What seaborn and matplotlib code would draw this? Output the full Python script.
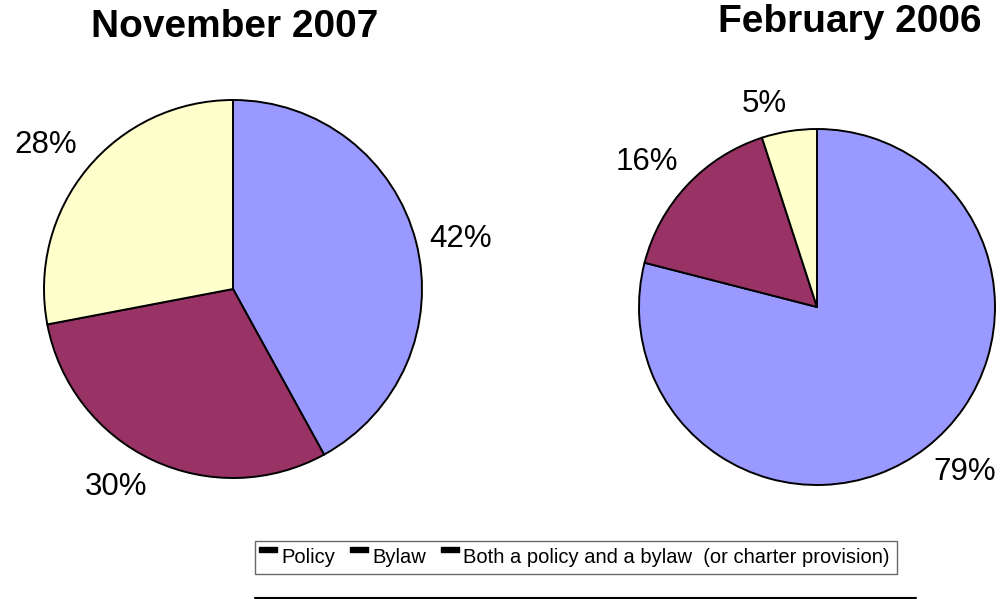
import numpy as np
import seaborn as sns
import matplotlib.pyplot as plt
from matplotlib.lines import Line2D
from matplotlib.path import Path

# data
categories = ["Policy", "Bylaw", "Both a policy and a bylaw  (or charter provision)"]
nov_2007 = [42, 30, 28]
feb_2006 = [79, 16, 5]
titles = ["November 2007", "February 2006"]
colors = ["#9999FF", "#993366", "#FFFFCC"]

sns.set_style("white")
plt.rcParams['font.family'] = ['Liberation Sans', 'DejaVu Sans']
plt.rcParams['text.color'] = 'black'

W, H = 1001, 599
fig = plt.figure(figsize=(W / 100, H / 100), dpi=100)


def pie_axes(cx, cy, r, lim=1.3):
    # square axes centred on (cx, cy) px, pie radius r px
    side = 2 * lim * r
    return fig.add_axes([(cx - side / 2) / W, (H - cy - side / 2) / H, side / W, side / H])


for vals, (cx, cy, r) in zip([nov_2007, feb_2006], [(233, 289, 189), (817, 307, 178)]):
    ax = pie_axes(cx, cy, r)
    _, texts = ax.pie(vals, labels=[f"{v}%" for v in vals], colors=colors, startangle=90,
                      counterclock=False, labeldistance=1.07,
                      wedgeprops=dict(edgecolor="black", linewidth=1.4),
                      textprops=dict(fontsize=22.5, color="black"))
    # keep labels outside the rim, like the spreadsheet layout
    for t in texts:
        x, y = t.get_position()
        s = y / np.hypot(x, y)
        if s > 0.3:
            t.set_va("bottom")
        elif s < -0.3:
            t.set_va("top")
    ax.set_xlim(-1.3, 1.3)
    ax.set_ylim(-1.3, 1.3)
    ax.set_aspect("equal")
    ax.axis("off")

fig.text(235 / W, 1 - 27 / H, titles[0], ha="center", va="center", fontsize=28, fontweight="bold")
fig.text(850 / W, 1 - 22 / H, titles[1], ha="center", va="center", fontsize=28, fontweight="bold")

# raised dash used as legend key
dash = Path([(-0.7, 0.3), (0.7, 0.3), (0.7, 0.7), (-0.7, 0.7), (-0.7, 0.3)],
            [Path.MOVETO, Path.LINETO, Path.LINETO, Path.LINETO, Path.CLOSEPOLY])
handles = [Line2D([], [], ls="none", marker=dash, markersize=13, color="black") for _ in categories]
leg = fig.legend(handles, categories, loc="upper left", bbox_to_anchor=(255 / W, 1 - 541 / H),
                 ncol=3, fontsize=14.5, frameon=True, fancybox=False, handlelength=0.6,
                 handletextpad=0.35, columnspacing=0.9, borderpad=0.35, borderaxespad=0,
                 labelcolor="black")
leg.get_frame().set_edgecolor("#444444")
leg.get_frame().set_linewidth(1.0)

fig.add_artist(Line2D([255 / W, 916 / W], [1.5 / H, 1.5 / H], color="black", lw=1.5))

fig.savefig("out.png", dpi=100)
